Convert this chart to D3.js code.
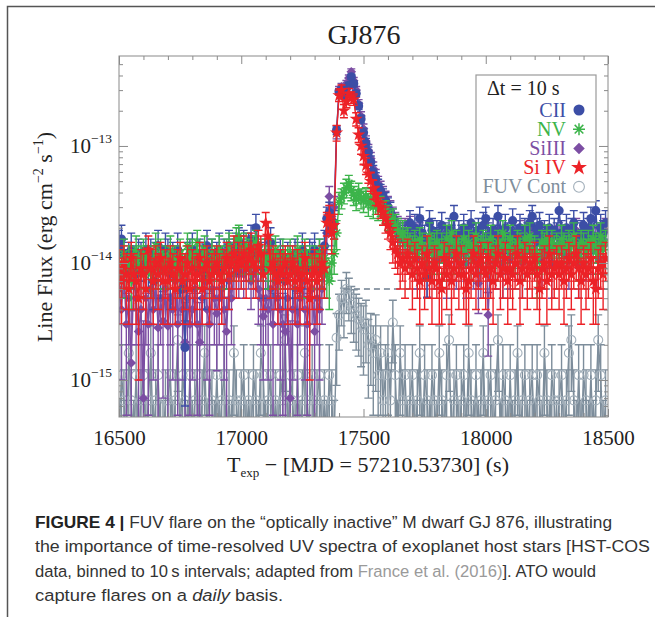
<!DOCTYPE html>
<html><head><meta charset="utf-8">
<script src="https://cdn.jsdelivr.net/npm/d3@7"></script>
<style>html,body{margin:0;padding:0;background:#fff;}svg{display:block}</style>
</head><body>
<svg id="c" width="655" height="617"></svg>
<script>
// ---------- DATA (line fluxes in units of 1e-15 erg cm^-2 s^-1, 10 s bins) ----------
const tStart = 16500, binWidth = 10;
const xTicksMajor = [16500, 17000, 17500, 18000, 18500];
const yTicksMajor = [1e-15, 1e-14, 1e-13];
const yTickLabels = ["−15", "−14", "−13"];
const contPeakLevel = 6.0;   // dashed FUV continuum reference level (1e-15)
const contPeakStart = 17420;

const cii = [14,16,12,9,11,13,10,8,12,11, 9,13,10,12,7,11,14,9,10,13, 12,8,11,10,13,9,6,1.9,11,12, 13,10,9,12,11,8,14,10,12,9,
 11,13,9,12,10,14,11,12,13,15, 12,14,11,13,16,12,20,14,11,9, 12,10,15,9,11,8,12,10,7,11, 10,9,12,11,8,13,10,9,12,11,
 13,9,12,10,14,24,27,20,22,137, 290,300,270,310,330,390,340,280,220,170, 130,105,88,73,60,52,45,41,37,34, 30,27,24,21,19,17,16,18,15,22,
 17,20,14,24,18,16,7.6,22,19,15, 18,15,21,17,13,19,16,25,14,18, 16,20,14,18,22,15,17,19,13,21, 24,17,15,19,16,25,18,14,20,17,
 15,23,18,16,20,14,19,17,22,25, 17,19,21,15,18,16,20,14,19,17, 28,18,16,20,15,19,22,17,14,18, 21,16,19,24,17,28,15,20,18,22];
const ciiErr = [5,5,4,4,4,5,4,4,4,4, 4,5,4,4,3,4,5,4,4,5, 4,4,4,4,5,4,3,1.3,4,4, 5,4,4,4,4,4,5,4,4,4,
 4,5,4,4,4,5,4,4,5,5, 4,5,4,5,5,4,6,5,4,4, 4,4,5,4,4,4,4,4,3,4, 4,4,4,4,4,5,4,4,4,4,
 5,4,4,4,5,6,6,6,6,12, 18,18,17,18,19,20,19,17,15,13, 12,11,10,9,8,7,7,6,6,6, 6,6,5,5,5,5,5,5,5,6,
 5,6,5,6,5,5,2.5,6,5,5, 5,5,6,5,5,5,5,6,5,5, 5,6,5,5,6,5,5,5,5,6, 6,5,5,5,5,6,5,5,6,5,
 5,6,5,5,6,5,5,5,6,6, 5,5,6,5,5,5,6,5,5,5, 6,5,5,6,5,5,6,5,5,5, 6,5,5,6,5,6,5,6,5,6];

const nv = [10,8,12,9,11,7,10,13,9,11, 12,9,11,8,10,14,9,12,10,11, 9,13,10,11,8,12,10,9,14,11, 12,10,15,9,11,13,10,8,12,11,
 10,13,11,9,12,14,11,10,16,17, 13,11,14,12,10,13,15,11,12,10, 11,9,12,10,13,11,9,12,10,11, 12,10,9,13,11,8,12,10,11,9,
 11,10,12,9,11,8,7,10,12,18, 33,36,40,44,48,42,38,35,40,36, 34,37,32,36,30,33,29,31,27,28, 25,23,24,21,19,17,18,15,16,14,
 13,15,12,16,14,11,13,17,12,14, 15,12,14,11,16,13,18,12,15,13, 12,16,13,15,11,14,17,12,13,15, 14,12,16,13,11,15,12,18,14,13,
 16,13,12,15,14,11,16,13,17,12, 13,9,12,15,14,16,12,15,13,14, 12,16,14,13,15,12,17,14,11,15, 14,12,15,13,16,14,12,17,13,15];
const nvErr = [3,3,4,3,3,3,3,4,3,3, 4,3,3,3,3,4,3,4,3,3, 3,4,3,3,3,4,3,3,4,3, 4,3,4,3,3,4,3,3,4,3,
 3,4,3,3,4,4,3,3,4,4, 4,3,4,4,3,4,4,3,4,3, 3,3,4,3,4,3,3,4,3,3, 4,3,3,4,3,3,4,3,3,3,
 3,3,4,3,3,3,3,3,4,5, 7,7,8,8,8,8,7,7,8,7, 7,7,7,7,6,7,6,6,6,6, 6,5,5,5,5,5,5,4,4,4,
 4,4,4,4,4,4,4,5,4,4, 4,4,4,4,5,4,5,4,4,4, 4,5,4,4,4,4,5,4,4,4, 4,4,5,4,4,4,4,5,4,4,
 5,4,4,4,4,4,5,4,5,4, 4,4,4,4,4,5,4,4,4,4, 4,5,4,4,4,4,5,4,4,4, 4,4,4,4,5,4,4,5,4,4];

const siiii = [6,4,8,3,5,1.4,7,5,2.6,4, 0.7,5,3,6,4,7,2.8,5,3.2,6, 2.9,5,4,7,3,6,4,2.1,5,3, 4,6,3,2.1,5,7,4,3,6,5,
 3.7,5,6,4,2.6,7,5,8,9,8, 9,8,10,9,7,8,9,6,5,3.5, 5,4,6,3,7,5,4,3,2.6,5, 0.7,4,6,3,5,7,4,3,5,6,
 2.6,5,4,6,8,18,37,25,30,130, 300,320,290,340,380,430,360,300,230,180, 140,110,92,78,64,55,48,43,39,35, 31,28,25,22,20,18,17,19,16,20,
 13,16,11,17,14,12,9,16,14,11, 14,11,16,13,10,15,12,18,11,14, 12,15,10,14,17,11,13,6.7,10,15, 17,3.6,12,14,11,19,13,10,15,13,
 11,17,14,12,18,10,15,13,16,19, 13,15,16,11,14,12,15,10,14,13, 16,14,12,15,11,15,17,19,10,14, 15,12,14,18,13,16,11,15,14,19];
const siiiiErr = [3,3,3,2.5,3,2.5,3,3,2.5,3, 2.5,3,2.5,3,3,3,2.5,3,2.5,3, 2.5,3,3,3,2.5,3,3,2.5,3,2.5, 3,3,2.5,2.5,3,3,3,2.5,3,3,
 2.5,3,3,3,2.5,3,3,3,3,3, 3,3,3,3,3,3,3,3,3,2.5, 3,3,3,2.5,3,3,3,2.5,2.5,3, 2.5,3,3,2.5,3,3,3,2.5,3,3,
 2.5,3,3,3,3,6,8,7,7,15, 22,22,21,23,24,26,24,22,19,16, 14,12,11,10,9,8,7,7,6,6, 6,6,5,5,5,5,5,5,5,5,
 5,5,5,5,5,5,4,5,5,5, 5,5,5,5,5,5,5,5,5,5, 5,5,5,5,5,5,5,3,5,5, 5,2,5,5,5,5,5,5,5,5,
 5,5,5,5,5,5,5,5,5,5, 5,5,5,5,5,5,5,5,5,5, 5,5,5,5,5,5,5,5,5,5, 5,5,5,5,5,5,5,5,5,5];

const siiv = [9,7,10,8,6,11,8,7,5,9, 8,6,13,9,7,10,8,11,7,9, 7,10,8,6,9,11,7,8,10,6, 9,7,8,11,6,9,10,7,8,9,
 10,8,7,9,11,8,10,12,9,11, 10,12,9,11,13,10,9,14,12,8, 22,17,9,10,8,7,9,8,10,7, 8,10,7,9,6,8,11,7,5,8,
 9,7,8,10,9,22,25,18,21,130, 270,300,200,240,280,260,250,170,125,100, 82,68,58,50,43,38,33,30,27,24, 21,18,15,13,12,10,11,9,12,10,
 8,11,9,7,10,8,12,9,7,10, 9,7,6,11,8,10,7,9,12,8, 10,8,6,7,9,12,8,10,11,9, 8,11,9,7,10,12,8,9,11,7,
 9,8,10,12,7,9,11,8,10,9, 11,8,6,9,10,7,12,8,9,10, 8,10,7,9,11,8,10,12,9,7, 10,8,9,11,7,6,9,10,8,11];
const siivErr = [4,4,4,4,3,4,4,4,4,4, 4,3,4,4,4,4,4,4,4,4, 4,4,4,3,4,4,4,4,4,3, 4,4,4,4,3,4,4,4,4,4,
 4,4,4,4,4,4,4,5,4,4, 4,5,4,4,5,4,4,5,5,4, 5,5,4,4,4,4,4,4,4,4, 4,4,4,4,3,4,4,4,4,4,
 4,4,4,4,4,5,6,6,5,20, 30,32,26,28,30,29,28,22,18,15, 13,11,10,9,8,7,7,6,6,6, 5,5,5,4,4,4,4,4,4,4,
 4,4,4,4,4,4,5,4,4,4, 4,4,3,4,4,4,4,4,5,4, 4,4,3,4,4,5,4,4,4,4, 4,4,4,4,4,5,4,4,4,4,
 4,4,4,5,4,4,4,4,4,4, 4,4,3,4,4,4,5,4,4,4, 4,4,4,4,4,4,4,5,4,4, 4,4,4,4,4,3,4,4,4,4];

const fuv = [0.3,1.1,0.67,0.3,1.7,0.67,0.3,1.1,0.3,0.67, 1.1,0.3,0.67,1.7,0.3,0.67,1.1,0.3,0.3,0.67,
 0.67,1.1,0.3,0.67,2.2,0.3,1.1,0.67,0.3,1.1, 0.3,0.67,1.1,0.3,0.67,1.7,0.3,1.1,0.67,0.3,
 1.1,0.3,0.67,1.1,0.3,0.67,0.3,1.7,0.67,0.3, 0.67,1.1,0.3,0.67,0.3,1.1,0.67,0.3,1.7,1.1,
 0.3,0.67,1.1,0.3,0.67,0.3,1.1,0.67,2.2,0.3, 1.1,0.67,0.3,1.1,0.3,0.67,1.7,0.3,0.67,1.1,
 0.3,0.67,1.1,0.3,0.67,0.3,1.1,0.67,0.3,2.3, 3.6,5.0,4.2,6.0,5.3,4.4,4.0,3.6,3.3,2.9,
 2.7,3.1,2.0,2.3,1.7,2.2,1.1,1.7,0.67,1.1, 1.7,0.67,3.1,1.1,0.3,1.7,0.67,1.1,0.3,0.67,
 1.1,0.3,0.67,1.7,0.3,1.1,0.67,0.3,1.1,0.67, 0.3,1.7,0.67,0.3,1.1,2.2,0.3,0.67,1.1,0.3,
 0.67,1.1,0.3,1.7,0.67,0.3,1.1,0.3,0.67,1.7, 0.3,0.67,1.1,0.3,0.67,2.2,0.3,1.1,0.67,0.3,
 1.1,0.3,0.67,1.7,0.3,0.67,1.1,0.3,0.67,1.1, 0.3,1.1,0.67,0.3,1.7,0.67,0.3,1.1,0.67,0.3,
 0.67,1.1,0.3,0.67,1.7,2.2,0.67,0.3,1.1,0.3, 1.1,0.67,0.3,1.1,0.3,0.67,2.2,1.1,0.3,0.67];
const fuvErr = [.37,.9,.55,.37,1.2,.55,.37,.9,.37,.55, .9,.37,.55,1.2,.37,.55,.9,.37,.37,.55,
 .55,.9,.37,.55,1.4,.37,.9,.55,.37,.9, .37,.55,.9,.37,.55,1.2,.37,.9,.55,.37,
 .9,.37,.55,.9,.37,.55,.37,1.2,.55,.37, .55,.9,.37,.55,.37,.9,.55,.37,1.2,.9,
 .37,.55,.9,.37,.55,.37,.9,.55,1.4,.37, .9,.55,.37,.9,.37,.55,1.2,.37,.55,.9,
 .37,.55,.9,.37,.55,.37,.9,.55,.37,1.4, 1.8,2.1,1.9,2.3,2.1,1.9,1.9,1.8,1.7,1.6,
 1.6,1.7,1.3,1.4,1.2,1.4,.9,1.2,.55,.9, 1.2,.55,1.7,.9,.37,1.2,.55,.9,.37,.55,
 .9,.37,.55,1.2,.37,.9,.55,.37,.9,.55, .37,1.2,.55,.37,.9,1.4,.37,.55,.9,.37,
 .55,.9,.37,1.2,.55,.37,.9,.37,.55,1.2, .37,.55,.9,.37,.55,1.4,.37,.9,.55,.37,
 .9,.37,.55,1.2,.37,.55,.9,.37,.55,.9, .37,.9,.55,.37,1.2,.55,.37,.9,.55,.37,
 .55,.9,.37,.55,1.2,1.4,.55,.37,.9,.37, .9,.55,.37,.9,.37,.55,1.4,.9,.37,.55];

const legendTitle = "Δt = 10 s";
const seriesNames = ["CII", "NV", "SiIII", "Si IV", "FUV Cont"];

// ---------- DRAWING ----------
const UNIT = 1e-15;
const svg = d3.select("#c");
const M = {left: 119, right: 608, top: 56, bottom: 417};
const x = d3.scaleLinear().domain([16500, 18500]).range([M.left, M.right]);
const y = d3.scaleLog().domain([4.83e-16, 5.87e-13]).range([M.bottom, M.top]);
const serif = "'Liberation Serif','Times New Roman',serif";

// outer frame
svg.append("path").attr("d", "M7.5,617V6.5H655").attr("fill", "none")
  .attr("stroke", "#555").attr("stroke-width", 1.5);

svg.append("text").attr("x", 364).attr("y", 44).attr("text-anchor", "middle")
  .attr("font-family", serif).attr("font-size", 28).attr("fill", "#222").text("GJ876");

svg.append("clipPath").attr("id", "pc").append("rect")
  .attr("x", M.left).attr("y", M.top).attr("width", M.right - M.left).attr("height", M.bottom - M.top);
const plot = svg.append("g").attr("clip-path", "url(#pc)");

const shapes = {
  circle: r => `M${-r},0A${r},${r} 0 1,0 ${r},0A${r},${r} 0 1,0 ${-r},0Z`,
  diamond: r => `M0,${-r}L${r},0L0,${r}L${-r},0Z`,
  asterisk: r => { const k = r * 0.72; return `M${-r},0H${r}M0,${-r}V${r}M${-k},${-k}L${k},${k}M${-k},${k}L${k},${-k}`; },
  star: s => d3.symbol(d3.symbolStar, s)()
};

const seriesDefs = {
  fuv:   {name: seriesNames[4], vals: fuv, errs: fuvErr, color: "#7d8d9b", mark: "open", size: 4.5},
  cii:   {name: seriesNames[0], vals: cii, errs: ciiErr, color: "#3c4ea6", mark: "circle", size: 4.6},
  nv:    {name: seriesNames[1], vals: nv, errs: nvErr, color: "#3cb44a", mark: "asterisk", size: 5},
  siiii: {name: seriesNames[2], vals: siiii, errs: siiiiErr, color: "#7c4ea3", mark: "diamond", size: 4.8},
  siiv:  {name: seriesNames[3], vals: siiv, errs: siivErr, color: "#ec2227", mark: "star", size: 55}
};
const drawOrder = ["fuv", "siiii", "cii", "nv", "siiv"];
const legendOrder = ["cii", "nv", "siiii", "siiv", "fuv"];

function markerPath(s, scale) {
  const k = scale || 1;
  if (s.mark === "open" || s.mark === "circle") return shapes.circle(s.size * k);
  if (s.mark === "diamond") return shapes.diamond(s.size * k);
  if (s.mark === "asterisk") return shapes.asterisk(s.size * k);
  return shapes.star(s.size * k * k);
}
function styleMarker(sel, s) {
  if (s.mark === "open") sel.attr("fill", "none").attr("stroke", "#a3b0bb").attr("stroke-width", 1.1);
  else if (s.mark === "asterisk") sel.attr("fill", "none").attr("stroke", s.color).attr("stroke-width", 1.5);
  else sel.attr("fill", s.color).attr("stroke", "none");
}

// dashed continuum reference line
plot.append("line").attr("x1", x(contPeakStart)).attr("x2", x(18500))
  .attr("y1", y(contPeakLevel * UNIT)).attr("y2", y(contPeakLevel * UNIT))
  .attr("stroke", "#6e7e8d").attr("stroke-width", 1.6).attr("stroke-dasharray", "6,4");

drawOrder.forEach(key => {
  const s = seriesDefs[key];
  const pts = s.vals.map((v, i) => ({t: tStart + binWidth * i, v: v * UNIT, e: s.errs[i] * UNIT}));
  const g = plot.append("g");
  g.append("path").datum(pts)
    .attr("d", d3.line().x(d => x(d.t)).y(d => y(d.v)))
    .attr("fill", "none").attr("stroke", s.color).attr("stroke-width", 1.4);
  g.append("path").attr("d", pts.map(d => {
      const xx = x(d.t), lo = d.v - d.e;
      const y0 = lo > 0 ? y(lo) : M.bottom + 30, y1 = y(d.v + d.e);
      return `M${xx},${y0}V${y1}M${xx - 4},${y1}H${xx + 4}M${xx - 4},${y0}H${xx + 4}`;
    }).join(""))
    .attr("fill", "none").attr("stroke", s.color).attr("stroke-width", 1.4);
  const mp = markerPath(s);
  g.selectAll("path.m").data(pts).join("path").attr("class", "m")
    .attr("transform", d => `translate(${x(d.t)},${y(d.v)})`)
    .attr("d", mp).call(styleMarker, s);
});

// axes (ticks inward on all four sides)
const axisColor = "#8a8a8a";
const xMinor = d3.range(16500, 18501, 100).filter(v => !xTicksMajor.includes(v));
const [ylo, yhi] = y.domain();
const yMinor = [];
[1e-16, 1e-15, 1e-14, 1e-13].forEach(dec => { for (let k = 2; k <= 9; k++) { const v = k * dec; if (v >= ylo && v <= yhi) yMinor.push(v); } });

function addAxis(axis, tr) {
  const g = svg.append("g").attr("transform", tr).call(axis);
  g.select(".domain").remove();
  g.selectAll(".tick line").attr("stroke", axisColor);
  return g;
}
addAxis(d3.axisBottom(x).tickValues(xMinor).tickSize(-4).tickFormat(""), `translate(0,${M.bottom})`);
addAxis(d3.axisTop(x).tickValues(xMinor).tickSize(-4).tickFormat(""), `translate(0,${M.top})`);
addAxis(d3.axisTop(x).tickValues(xTicksMajor).tickSize(-8).tickFormat(""), `translate(0,${M.top})`);
const xb = addAxis(d3.axisBottom(x).tickValues(xTicksMajor).tickSize(-8).tickPadding(13).tickFormat(d3.format("d")), `translate(0,${M.bottom})`);
xb.selectAll("text").attr("font-family", serif).attr("font-size", 21).attr("fill", "#222");
addAxis(d3.axisLeft(y).tickValues(yMinor).tickSize(-4).tickFormat(""), `translate(${M.left},0)`);
addAxis(d3.axisRight(y).tickValues(yMinor).tickSize(-4).tickFormat(""), `translate(${M.right},0)`);
addAxis(d3.axisLeft(y).tickValues(yTicksMajor).tickSize(-9).tickFormat(""), `translate(${M.left},0)`);
addAxis(d3.axisRight(y).tickValues(yTicksMajor).tickSize(-9).tickFormat(""), `translate(${M.right},0)`);

svg.append("rect").attr("x", M.left).attr("y", M.top).attr("width", M.right - M.left)
  .attr("height", M.bottom - M.top).attr("fill", "none").attr("stroke", axisColor).attr("stroke-width", 1);

// y tick labels with superscripts
yTicksMajor.forEach((v, i) => {
  const t = svg.append("text").attr("x", 112).attr("y", y(v) + 7).attr("text-anchor", "end")
    .attr("font-family", serif).attr("font-size", 21).attr("fill", "#222");
  t.append("tspan").text("10");
  t.append("tspan").attr("dy", -10).attr("font-size", 13.5).text(yTickLabels[i]);
});

// x axis title
const xt = svg.append("text").attr("x", 368).attr("y", 472).attr("text-anchor", "middle")
  .attr("font-family", serif).attr("font-size", 22).attr("fill", "#222");
xt.append("tspan").text("T");
xt.append("tspan").attr("dy", 5).attr("font-size", 13).text("exp");
xt.append("tspan").attr("dy", -5).text(" − [MJD = 57210.53730] (s)");

// y axis title
const yt = svg.append("text").attr("transform", "translate(52,237) rotate(-90)").attr("text-anchor", "middle")
  .attr("font-family", serif).attr("font-size", 22).attr("fill", "#222");
yt.append("tspan").text("Line Flux (erg cm");
yt.append("tspan").attr("dy", -9).attr("font-size", 14).text("−2");
yt.append("tspan").attr("dy", 9).text(" s");
yt.append("tspan").attr("dy", -9).attr("font-size", 14).text("−1");
yt.append("tspan").attr("dy", 9).text(")");

// legend
const lg = svg.append("g");
lg.append("rect").attr("x", 476).attr("y", 75).attr("width", 120).attr("height", 127)
  .attr("fill", "#fff").attr("stroke", "#9a9a9a").attr("stroke-width", 1.2);
lg.append("text").attr("x", 487).attr("y", 95).attr("font-family", serif).attr("font-size", 20)
  .attr("fill", "#222").text(legendTitle);
legendOrder.forEach((key, r) => {
  const s = seriesDefs[key];
  const cy = 110 + r * 19.2;
  lg.append("text").attr("x", 566).attr("y", cy + 6.5).attr("text-anchor", "end")
    .attr("font-family", serif).attr("font-size", 20)
    .attr("fill", s.mark === "open" ? "#7f8e9c" : s.color).text(s.name);
  lg.append("path").attr("transform", `translate(579,${cy})`).attr("d", markerPath(s, 1.2)).call(styleMarker, s);
});

// caption
const capLines = [
  [{t: "FIGURE 4 | ", b: true}, {t: "FUV flare on the “optically inactive” M dwarf GJ 876, illustrating"}],
  [{t: "the importance of time-resolved UV spectra of exoplanet host stars [HST-COS"}],
  [{t: "data, binned to 10\u2009s intervals; adapted from "}, {t: "France et al. (2016)", c: "#9a9a9a"}, {t: "]. ATO would"}],
  [{t: "capture flares on a "}, {t: "daily", i: true}, {t: " basis."}]
];
const capBase = [528, 552, 577, 601];
const capWidth = [577, 615, 561, 248];
const capG = svg.append("g").attr("font-family", "'Liberation Sans',Arial,sans-serif").attr("fill", "#333");
const capTexts = capLines.map((ln, k) => {
  const t = capG.append("text").attr("x", 35).attr("y", capBase[k]).attr("font-size", 17);
  ln.forEach(p => {
    const ts = t.append("tspan").text(p.t);
    if (p.b) ts.attr("font-weight", "bold").attr("fill", "#222");
    if (p.c) ts.attr("fill", p.c);
    if (p.i) ts.attr("font-style", "italic");
  });
  return t;
});
const w0 = capTexts[0].node().getComputedTextLength();
const fs = 17 * 577 / w0;
capTexts.forEach((t, k) => {
  t.attr("font-size", fs);
  const w = t.node().getComputedTextLength();
  t.attr("textLength", capWidth[k]).attr("lengthAdjust", Math.abs(w - capWidth[k]) > 2 ? "spacingAndGlyphs" : "spacing");
});
</script>
</body></html>
